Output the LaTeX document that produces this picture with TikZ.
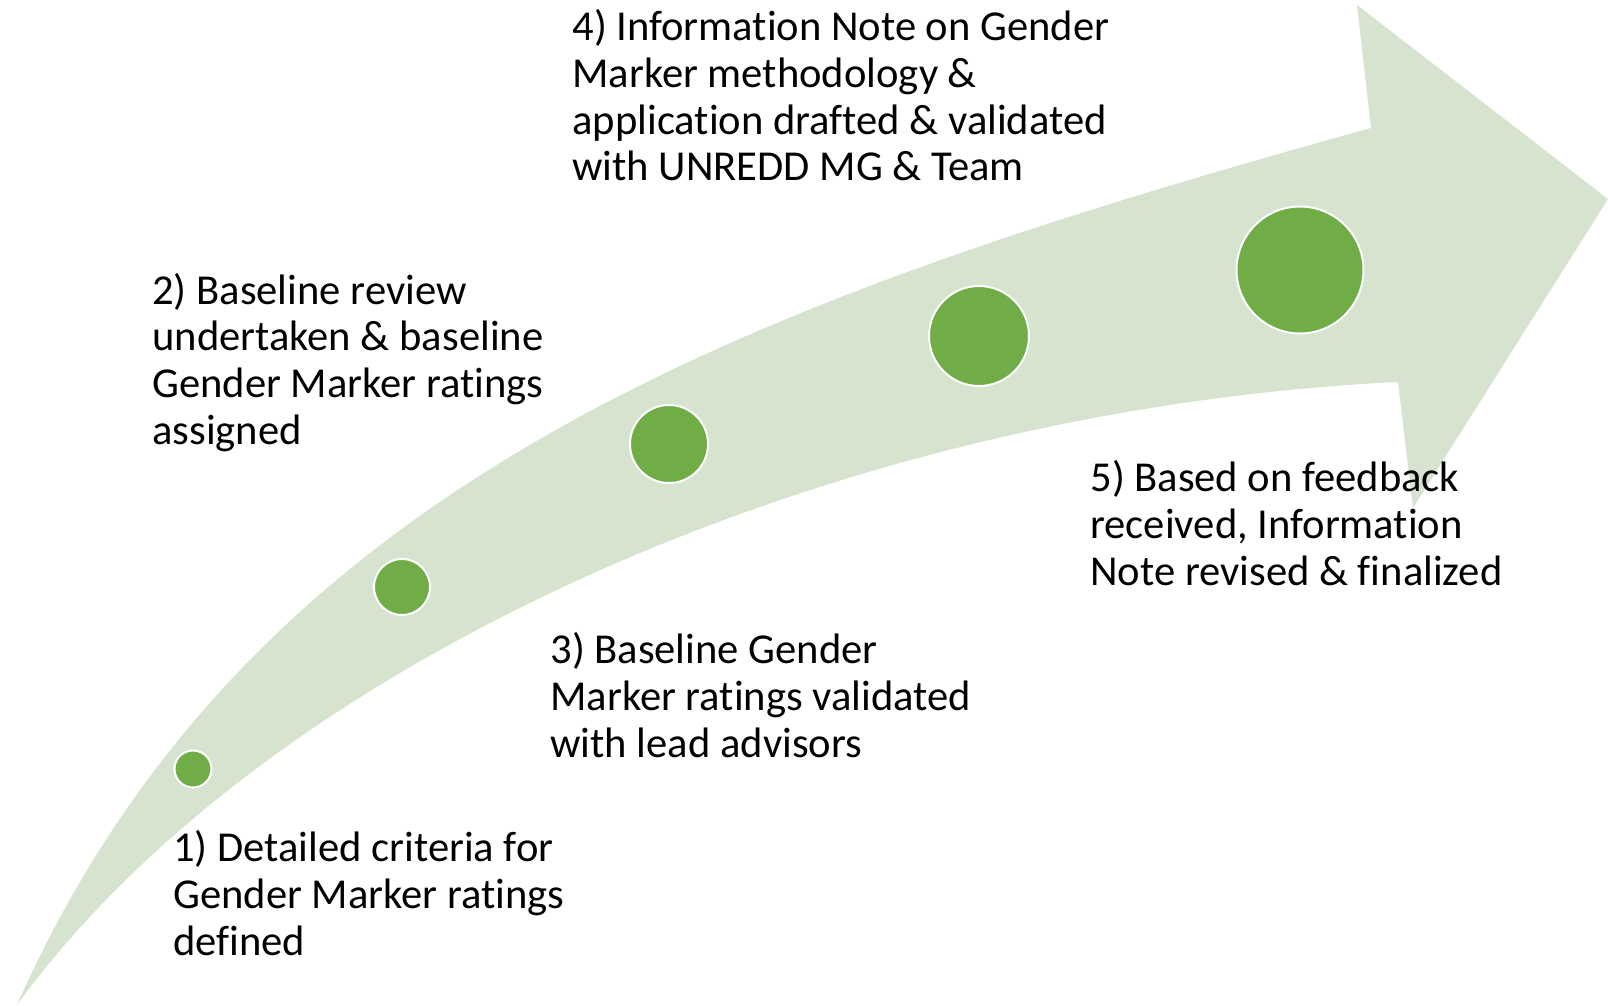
\documentclass[tikz,border=0pt]{standalone}
\usepackage{fontspec}
\setmainfont{Carlito}[Ligatures=NoCommon]
\usepackage{tikz}
\usetikzlibrary{positioning}
\definecolor{ArrowColor}{RGB}{213, 227, 207}
\definecolor{DotColor}{RGB}{112, 173, 71}
\tikzset{
    milestone/.style={
        circle,
        fill=DotColor,
        draw=white,
        line width=1pt,
        inner sep=0pt
    },
    steptext/.style={
        anchor=base west, % base = last line of the block
        align=left,
        inner sep=0pt,
        font=\fontsize{21.3}{23.4}\selectfont
    }
}

\begin{document}
\begin{tikzpicture}[x=0.5pt, y=-0.5pt]

    % ============================================================================
    % CANVAS
    % ============================================================================
    \useasboundingbox (0,0) rectangle (1608,1006);

    % ============================================================================
    % CURVED ARROW
    % ============================================================================
    \coordinate (Tail)      at (17,1005);
    \coordinate (UpperNeck) at (1371,128);
    \coordinate (UpperBarb) at (1357,5);
    \coordinate (Tip)       at (1608,199);
    \coordinate (LowerBarb) at (1413,508);
    \coordinate (LowerNeck) at (1398,382);

    \fill[ArrowColor]
        (Tail) .. controls (250,480) and (750,300) .. (UpperNeck)
        -- (UpperBarb) -- (Tip) -- (LowerBarb) -- (LowerNeck)
        .. controls (820,410) and (260,670) .. (Tail)
        -- cycle;

    % ============================================================================
    % MILESTONES
    % ============================================================================
    \node[milestone, minimum size=18.5pt] (Dot1) at (193,769) {};
    \node[milestone, minimum size=28pt] (Dot2) at (402,587) {};
    \node[milestone, minimum size=39pt] (Dot3) at (669,444) {};
    \node[milestone, minimum size=50pt] (Dot4) at (979,336) {};
    \node[milestone, minimum size=63.5pt] (Dot5) at (1300,270) {};

    % ============================================================================
    % STEP LABELS
    % ============================================================================
    \node[steptext] (Step1) at (173,955) {
        1) Detailed criteria for \\
        Gender Marker ratings \\
        defined
    };

    \node[steptext] (Step2) at (152,444.5) {
        2) Baseline review \\
        undertaken \& baseline \\
        Gender Marker ratings \\
        assigned
    };

    \node[steptext] (Step3) at (550,757) {
        3) Baseline Gender \\
        Marker ratings validated \\
        with lead advisors
    };

    \node[steptext] (Step4) at (572,181) {
        4) Information Note on Gender \\
        Marker methodology \& \\
        application drafted \& validated \\
        with UNREDD MG \& Team
    };

    \node[steptext] (Step5) at (1090,585) {
        5) Based on feedback \\
        received, Information \\
        Note revised \& finalized
    };

\end{tikzpicture}
\end{document}
